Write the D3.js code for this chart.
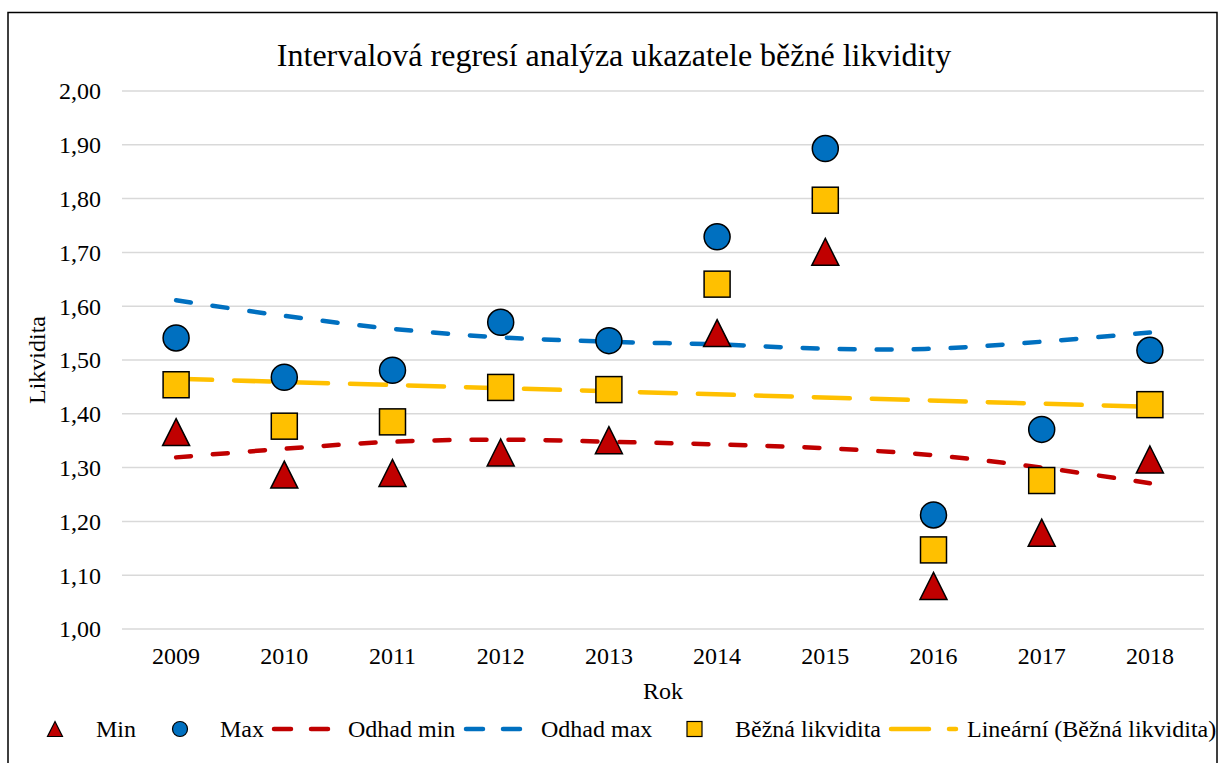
<!DOCTYPE html>
<html>
<head>
<meta charset="utf-8">
<script src="https://cdn.jsdelivr.net/npm/d3@7"></script>
<style>
  html, body { margin: 0; padding: 0; background: #fff; }
  svg { display: block; }
  text { font-family: "Liberation Serif", "Times New Roman", serif; fill: #000; }
</style>
</head>
<body>
<svg id="chart" width="1219" height="763"></svg>
<script>
// ---- data ----
const years = ["2009","2010","2011","2012","2013","2014","2015","2016","2017","2018"];
const minValues = [1.366, 1.287, 1.290, 1.328, 1.351, 1.550, 1.701, 1.080, 1.179, 1.315];
const maxValues = [1.541, 1.468, 1.481, 1.570, 1.536, 1.729, 1.893, 1.212, 1.371, 1.518];
const bezna = [1.454, 1.377, 1.385, 1.449, 1.445, 1.641, 1.797, 1.147, 1.276, 1.417];
const odhadMin = [1.319, 1.335, 1.348, 1.352, 1.348, 1.343, 1.336, 1.323, 1.300, 1.271];
const odhadMax = [1.611, 1.582, 1.558, 1.542, 1.534, 1.529, 1.521, 1.521, 1.534, 1.551];
const linearEnds = [1.465, 1.413]; // trendline values at 2009 and 2018
const yTicks = [1.0, 1.1, 1.2, 1.3, 1.4, 1.5, 1.6, 1.7, 1.8, 1.9, 2.0];
const title = "Intervalová regresí analýza ukazatele běžné likvidity";
const yTitle = "Likvidita";
const xTitle = "Rok";
const legendLabels = ["Min", "Max", "Odhad min", "Odhad max", "Běžná likvidita", "Lineární (Běžná likvidita)"];

// ---- styles ----
const cRed = "#C00000", cBlue = "#0070C0", cYellow = "#FFC000";
const fs = 24;

const svg = d3.select("#chart");
svg.append("rect").attr("x", 8).attr("y", 12.5).attr("width", 1209).attr("height", 770)
  .attr("fill", "#fff").attr("stroke", "#000").attr("stroke-width", 1.5);

const x = d3.scaleBand().domain(years).range([122, 1204]).padding(0);
const cx = d => x(d) + x.bandwidth() / 2;
const y = d3.scaleLinear().domain([1, 2]).range([629, 91]);

// gridlines
svg.append("g").selectAll("line").data(yTicks).join("line")
  .attr("x1", 122).attr("x2", 1204)
  .attr("y1", d => y(d)).attr("y2", d => y(d))
  .attr("stroke", "#d9d9d9").attr("stroke-width", 1.5);

// y axis
const yAxis = d3.axisLeft(y).tickValues(yTicks).tickSize(0).tickPadding(0)
  .tickFormat(d => d3.format(".2f")(d).replace(".", ","));
const gy = svg.append("g").attr("transform", "translate(101,0)").call(yAxis);
gy.select(".domain").remove();
gy.selectAll("text").attr("font-size", fs).attr("font-family", "Liberation Serif").attr("dy", "0.33em");

// x axis
const xAxis = d3.axisBottom(x).tickSize(0).tickPadding(0);
const gx = svg.append("g").attr("transform", "translate(0,647)").call(xAxis);
gx.select(".domain").remove();
gx.selectAll("text").attr("font-size", fs).attr("font-family", "Liberation Serif").attr("dy", "0.71em");

// titles
svg.append("text").attr("x", 614).attr("y", 66).attr("text-anchor", "middle")
  .attr("font-size", 32).text(title);
svg.append("text").attr("transform", "translate(45,360) rotate(-90)").attr("text-anchor", "middle")
  .attr("font-size", fs).text(yTitle);
svg.append("text").attr("x", 663).attr("y", 699).attr("text-anchor", "middle")
  .attr("font-size", fs).text(xTitle);

// lines
const smooth = d3.line().x((d, i) => cx(years[i])).y(d => y(d)).curve(d3.curveCatmullRom.alpha(0.5));
svg.append("path").datum(odhadMin).attr("d", smooth).attr("fill", "none")
  .attr("stroke", cRed).attr("stroke-width", 4.5).attr("stroke-linecap", "round").attr("stroke-dasharray", "15,22");
svg.append("path").datum(odhadMax).attr("d", smooth).attr("fill", "none")
  .attr("stroke", cBlue).attr("stroke-width", 4.5).attr("stroke-linecap", "round").attr("stroke-dasharray", "15,22");
const lin = d3.line().x(d => cx(d[0])).y(d => y(d[1]));
svg.append("path").datum([[years[0], linearEnds[0]], [years[years.length - 1], linearEnds[1]]])
  .attr("d", lin).attr("fill", "none")
  .attr("stroke", cYellow).attr("stroke-width", 4.5).attr("stroke-linecap", "round").attr("stroke-dasharray", "36,22");

// markers
const triSize = 27;
function triPath(s) {
  const h = s;
  return `M0,${-h/2} L${s/2},${h/2} L${-s/2},${h/2} Z`;
}
svg.append("g").selectAll("path").data(minValues).join("path")
  .attr("d", triPath(triSize))
  .attr("transform", (d, i) => `translate(${cx(years[i])},${y(d)})`)
  .attr("fill", cRed).attr("stroke", "#000").attr("stroke-width", 1.5);
svg.append("g").selectAll("circle").data(maxValues).join("circle")
  .attr("cx", (d, i) => cx(years[i])).attr("cy", d => y(d)).attr("r", 13)
  .attr("fill", cBlue).attr("stroke", "#000").attr("stroke-width", 1.5);
svg.append("g").selectAll("rect").data(bezna).join("rect")
  .attr("x", (d, i) => cx(years[i]) - 13).attr("y", d => y(d) - 13)
  .attr("width", 26).attr("height", 26)
  .attr("fill", cYellow).attr("stroke", "#000").attr("stroke-width", 1.5);

// legend
const ly = 729;
const lg = svg.append("g");
lg.append("path").attr("d", triPath(15)).attr("transform", `translate(55,${ly})`)
  .attr("fill", cRed).attr("stroke", "#000").attr("stroke-width", 1.2);
lg.append("text").attr("x", 96).attr("y", ly).attr("dy", "0.33em").attr("font-size", fs).text(legendLabels[0]);
lg.append("circle").attr("cx", 180).attr("cy", ly).attr("r", 7.5)
  .attr("fill", cBlue).attr("stroke", "#000").attr("stroke-width", 1.2);
lg.append("text").attr("x", 220).attr("y", ly).attr("dy", "0.33em").attr("font-size", fs).text(legendLabels[1]);
lg.append("line").attr("x1", 274).attr("x2", 330).attr("y1", ly).attr("y2", ly)
  .attr("stroke", cRed).attr("stroke-width", 4.5).attr("stroke-linecap", "round").attr("stroke-dasharray", "17,20");
lg.append("text").attr("x", 348).attr("y", ly).attr("dy", "0.33em").attr("font-size", fs).text(legendLabels[2]);
lg.append("line").attr("x1", 466).attr("x2", 521).attr("y1", ly).attr("y2", ly)
  .attr("stroke", cBlue).attr("stroke-width", 4.5).attr("stroke-linecap", "round").attr("stroke-dasharray", "17,20");
lg.append("text").attr("x", 541).attr("y", ly).attr("dy", "0.33em").attr("font-size", fs).text(legendLabels[3]);
lg.append("rect").attr("x", 687).attr("y", ly - 7.5).attr("width", 15).attr("height", 15)
  .attr("fill", cYellow).attr("stroke", "#000").attr("stroke-width", 1.2);
lg.append("text").attr("x", 735).attr("y", ly).attr("dy", "0.33em").attr("font-size", fs).text(legendLabels[4]);
lg.append("line").attr("x1", 891).attr("x2", 956).attr("y1", ly).attr("y2", ly)
  .attr("stroke", cYellow).attr("stroke-width", 4.5).attr("stroke-linecap", "round").attr("stroke-dasharray", "38,20");
lg.append("text").attr("x", 967).attr("y", ly).attr("dy", "0.33em").attr("font-size", fs).text(legendLabels[5]);
</script>
</body>
</html>
